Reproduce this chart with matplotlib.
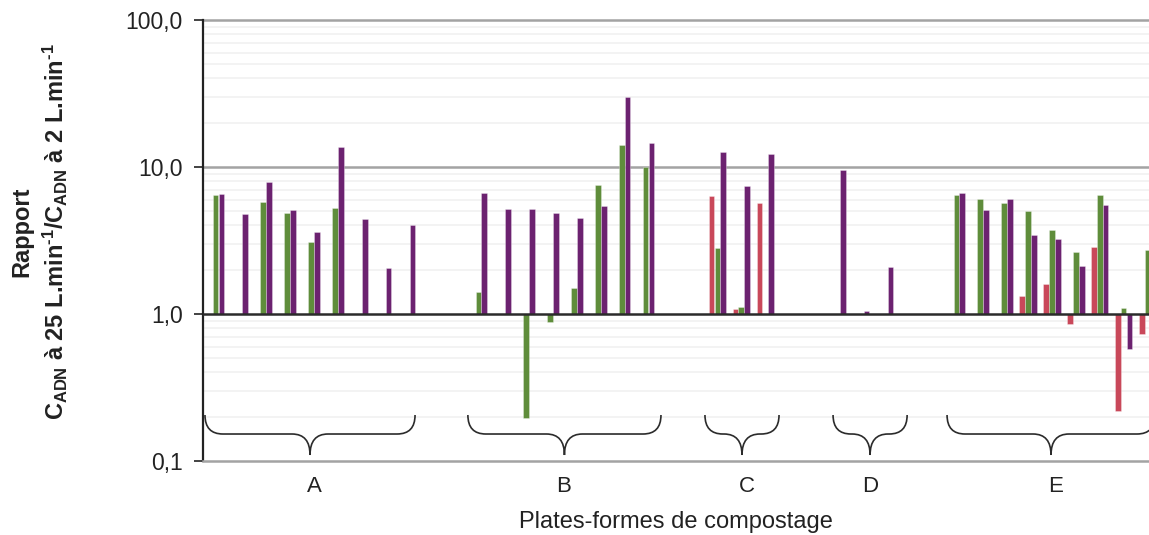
import numpy as np
import matplotlib
matplotlib.use("Agg")
import matplotlib.pyplot as plt
from matplotlib.path import Path
from matplotlib.patches import PathPatch
from matplotlib.transforms import blended_transform_factory
from matplotlib.ticker import FixedLocator, FixedFormatter, NullFormatter

plt.rcParams['font.family'] = ['Liberation Sans', 'DejaVu Sans']
plt.rcParams['mathtext.fontset'] = 'custom'
plt.rcParams['mathtext.rm'] = 'Liberation Sans:bold'
plt.rcParams['mathtext.it'] = 'Liberation Sans:bold'
plt.rcParams['mathtext.bf'] = 'Liberation Sans:bold'
plt.rcParams['mathtext.sf'] = 'Liberation Sans:bold'

# ---------------- data ----------------
groups = ['A', 'B', 'C', 'D', 'E']
N = None
red_A = [N, N, N, N, N, N, N, N, N]
green_A = [6.4, N, 5.75, 4.9, 3.1, 5.25, N, N, N]
purple_A = [6.6, 4.8, 7.9, 5.1, 3.6, 13.7, 4.4, 2.07, 4.03]

red_B = [N, N, N, N, N, N, N, N]
green_B = [1.41, N, 0.195, 0.88, 1.5, 7.6, 14.1, 10.0]
purple_B = [6.7, 5.15, 5.18, 4.9, 4.5, 5.45, 29.8, 14.5]

red_C = [6.3, 1.08, 5.7]
green_C = [2.81, 1.12, N]
purple_C = [12.6, 7.46, 12.2]

red_D = [N, N, N]
green_D = [N, N, N]
purple_D = [9.5, 1.05, 2.09]

red_E = [N, N, N, 1.33, 1.61, 0.85, 2.87, 0.22, 0.73]
green_E = [6.45, 6.1, 5.7, 5.0, 3.7, 2.63, 6.42, 1.10, 2.72]
purple_E = [6.7, 5.1, 6.1, 3.45, 3.24, 2.11, 5.5, 0.58, N]

red_all = [red_A, red_B, red_C, red_D, red_E]
green_all = [green_A, green_B, green_C, green_D, green_E]
purple_all = [purple_A, purple_B, purple_C, purple_D, purple_E]

ytick_vals = [0.1, 1, 10, 100]
ytick_labels = ['0,1', '1,0', '10,0', '100,0']
xlabel = 'Plates-formes de compostage'
ylabel1 = 'Rapport'
ylabel2 = r'$C_{ADN}$ à 25 L.min$^{\text{-}1}$/$C_{ADN}$ à 2 L.min$^{\text{-}1}$'

# ---------------- style / layout ----------------
c_red = '#c9485a'
c_green = '#5f8d3b'
c_purple = '#6c2270'
gap = 2
offset = 0.245
width = 0.235

W, H = 1149, 535
fig = plt.figure(figsize=(W / 100, H / 100), dpi=100)
ax = fig.add_axes([203 / W, 1 - 461 / H, (W - 203) / W, 441 / H])
ax.set_yscale('log')
ax.set_ylim(0.1, 100)
ax.set_xlim(-0.523, 39.06)

# positions
pos = 0
group_pos = []
for g in range(len(groups)):
    n = len(purple_all[g])
    group_pos.append(np.arange(pos, pos + n))
    pos += n + gap

for g in range(len(groups)):
    for series, off, col in [(red_all[g], -offset, c_red),
                             (green_all[g], 0.0, c_green),
                             (purple_all[g], offset, c_purple)]:
        xs = [p + off for p, v in zip(group_pos[g], series) if v is not None]
        vs = [v for v in series if v is not None]
        if xs:
            ax.bar(xs, np.array(vs) - 1, bottom=1, width=width, color=col,
                   edgecolor=(1, 1, 1, 0.35), linewidth=0.6, zorder=3)

# grid
minor = [m * 10.0 ** e for e in (-1, 0, 1) for m in range(2, 10)]
for v in minor:
    ax.axhline(v, color='#f2f2f2', lw=1.3, zorder=1)
for v in (10, 100):
    ax.axhline(v, color='#a3a3a3', lw=1.8, zorder=2, clip_on=False)
ax.axhline(1, color='#2b2b2b', lw=1.8, zorder=4)

for s in ('top', 'right'):
    ax.spines[s].set_visible(False)
ax.spines['left'].set_color('#222222')
ax.spines['left'].set_linewidth(1.6)
ax.spines['bottom'].set_color('#a3a3a3')
ax.spines['bottom'].set_linewidth(1.8)

ax.yaxis.set_major_locator(FixedLocator(ytick_vals))
ax.yaxis.set_major_formatter(FixedFormatter(ytick_labels))
ax.yaxis.set_minor_locator(FixedLocator([]))
ax.yaxis.set_minor_formatter(NullFormatter())
ax.tick_params(axis='y', which='major', length=6.5, width=1.2, color='#222222',
               pad=8, labelsize=16.5, labelcolor='#222222')
ax.set_xticks([])

# braces
brace_x0 = [-0.44, 10.56, 20.48, 25.84, 30.61]
brace_x1 = [8.35, 18.64, 23.58, 28.94, 39.31]
label_dx = [0.2, -0.05, 0.2, 0.0, 0.2]
r = 0.75
ytop, ymid, ybot = 0.1043, 0.0612, 0.0136
trans = blended_transform_factory(ax.transData, ax.transAxes)
for g in range(len(groups)):
    x0, x1 = brace_x0[g], brace_x1[g]
    xc = (x0 + x1) / 2
    verts = [(x0, ytop), (x0, ymid), (x0 + r, ymid),
             (xc - r, ymid),
             (xc, ymid), (xc, ybot),
             (xc, ymid), (xc + r, ymid),
             (x1 - r, ymid),
             (x1, ymid), (x1, ytop)]
    codes = [Path.MOVETO, Path.CURVE3, Path.CURVE3,
             Path.LINETO,
             Path.CURVE3, Path.CURVE3,
             Path.CURVE3, Path.CURVE3,
             Path.LINETO,
             Path.CURVE3, Path.CURVE3]
    patch = PathPatch(Path(verts, codes), transform=trans, fill=False,
                      edgecolor='#2b2b2b', lw=1.2, zorder=5, clip_on=False)
    ax.add_patch(patch)
    ax.text(xc + label_dx[g], (461 - 487) / 441, groups[g], transform=trans,
            ha='center', va='center', fontsize=16, color='#222222')

fig.text(676 / W, 1 - 522 / H, xlabel, ha='center', va='center', fontsize=17,
         color='#222222')
fig.text(22 / W, 1 - 232 / H, ylabel1, rotation=90, ha='center', va='center',
         fontsize=17, fontweight='bold', color='#222222')
fig.text(55 / W, 1 - 232 / H, ylabel2, rotation=90, ha='center', va='center',
         fontsize=17, fontweight='bold', color='#222222')

fig.savefig('out.png', dpi=100)
